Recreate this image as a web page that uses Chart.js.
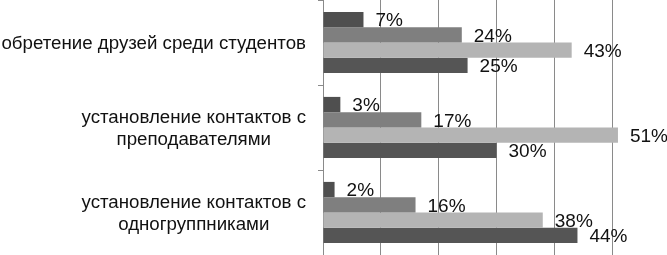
<!DOCTYPE html>
<html>
<head>
<meta charset="utf-8">
<script src="https://cdn.jsdelivr.net/npm/chart.js@4/dist/chart.umd.min.js"></script>
<style>
  html, body { margin: 0; padding: 0; background: #fff; overflow: hidden; }
  #wrap { width: 680px; height: 255px; position: relative; }
</style>
</head>
<body>
<div id="wrap"><canvas id="grafico"></canvas></div>
<script>
const categorias = [
    ['обретение друзей среди студентов'],
    ['установление контактов с', 'преподавателями'],
    ['установление контактов с', 'одногруппниками']
];
const serie1 = [7, 3, 2];
const serie2 = [24, 17, 16];
const serie3 = [43, 51, 38];
const serie4 = [25, 30, 44];
const ticksX = [0, 10, 20, 30, 40, 50, 60];

const fuente = '"Liberation Sans", Arial, sans-serif';

// etiquetas de valores y de categorías dibujadas a mano
const etiquetas = {
    id: 'etiquetas',
    afterDatasetsDraw(chart) {
        const ctx = chart.ctx;
        ctx.save();
        ctx.fillStyle = '#111';
        ctx.font = '19px ' + fuente;
        ctx.textBaseline = 'middle';
        ctx.textAlign = 'left';
        chart.data.datasets.forEach(function(ds, i) {
            const meta = chart.getDatasetMeta(i);
            meta.data.forEach(function(bar, j) {
                ctx.fillText(ds.data[j] + '%', bar.x + 12, bar.y + 1.5);
            });
        });

        ctx.font = '18.7px ' + fuente;
        const y = chart.scales.y;
        const derecha = chart.chartArea.left - 17;
        const alto = 21.5;
        categorias.forEach(function(lineas, j) {
            const centro = y.getPixelForValue(j) + 1.5;
            const anchos = lineas.map(l => ctx.measureText(l).width);
            const ancho = Math.max.apply(null, anchos);
            const cx = derecha - ancho / 2;
            ctx.textAlign = 'center';
            lineas.forEach(function(l, k) {
                const yy = centro + (k - (lineas.length - 1) / 2) * alto;
                ctx.fillText(l, cx, yy);
            });
        });
        ctx.restore();
    }
};

const ctx = document.getElementById('grafico').getContext('2d');
new Chart(ctx, {
    type: 'bar',
    data: {
        labels: categorias.map(c => c.join(' ')),
        datasets: [
            { data: serie1, backgroundColor: '#4f4f4f' },
            { data: serie2, backgroundColor: '#7f7f7f' },
            { data: serie3, backgroundColor: '#b4b4b4' },
            { data: serie4, backgroundColor: '#555555' }
        ]
    },
    options: {
        indexAxis: 'y',
        responsive: true,
        maintainAspectRatio: false,
        animation: false,
        layout: { padding: { left: 318, right: 10, top: 0, bottom: 0 } },
        plugins: {
            legend: { display: false },
            tooltip: { enabled: false }
        },
        datasets: {
            bar: { categoryPercentage: 0.72, barPercentage: 1.0 }
        },
        scales: {
            x: {
                min: 0,
                max: 60,
                afterBuildTicks: function(axis) {
                    axis.ticks = ticksX.map(v => ({ value: v }));
                },
                ticks: { display: false },
                grid: { color: '#8a8a8a', drawTicks: false, lineWidth: 1 },
                border: { display: false }
            },
            y: {
                ticks: { display: false },
                grid: { drawOnChartArea: false, tickLength: 5, color: '#8a8a8a', offset: true },
                border: { display: true, color: '#8a8a8a' }
            }
        }
    },
    plugins: [etiquetas]
});
</script>
</body>
</html>
